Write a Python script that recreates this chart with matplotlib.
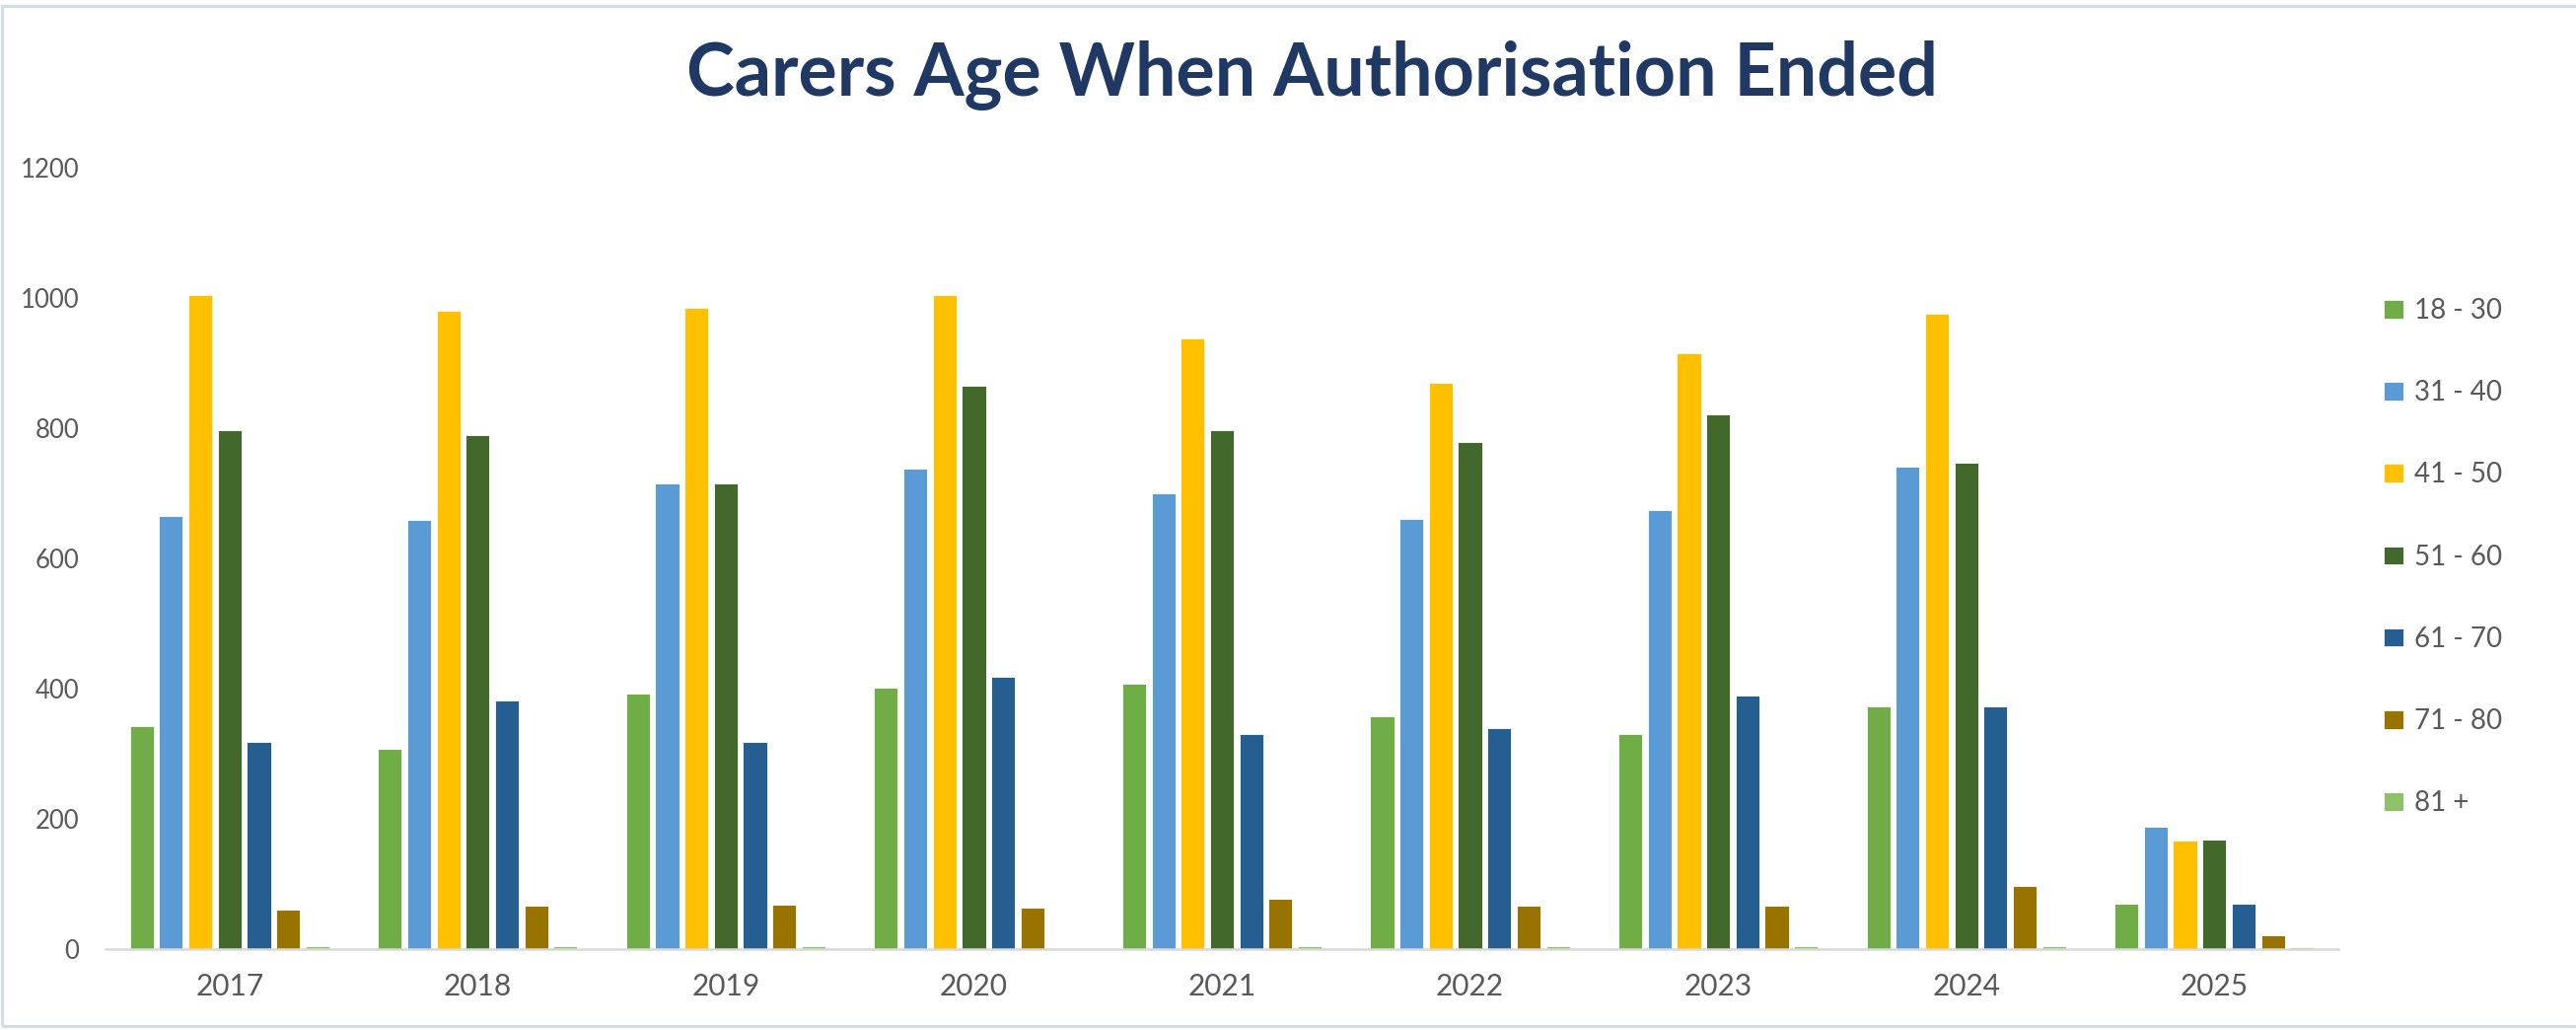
import matplotlib
matplotlib.use("Agg")
import matplotlib.pyplot as plt
from matplotlib.patches import Rectangle
import numpy as np

years = ["2017", "2018", "2019", "2020", "2021", "2022", "2023", "2024", "2025"]
age_groups = ["18 - 30", "31 - 40", "41 - 50", "51 - 60", "61 - 70", "71 - 80", "81 +"]

age_18_30 = [342, 308, 392, 402, 408, 358, 331, 373, 70]
age_31_40 = [665, 659, 716, 738, 701, 661, 674, 741, 188]
age_41_50 = [1005, 981, 986, 1005, 938, 870, 916, 977, 166]
age_51_60 = [798, 790, 716, 866, 798, 779, 821, 748, 168]
age_61_70 = [319, 382, 319, 418, 331, 340, 390, 373, 70]
age_71_80 = [61, 66, 68, 64, 77, 66, 66, 97, 21]
age_81_plus = [4, 4, 4, 0, 4, 4, 5, 4, 3]

series = [age_18_30, age_31_40, age_41_50, age_51_60, age_61_70, age_71_80, age_81_plus]
colors = ["#70AD47", "#5B9BD5", "#FFC000", "#43682B", "#255E91", "#997300", "#8FC16B"]

W, H = 2612, 1044
fig = plt.figure(figsize=(W / 100, H / 100), dpi=100)
fig.patch.set_facecolor("white")

ax = fig.add_axes([107 / W, 1 - 962 / H, (2371 - 107) / W, (962 - 170.4) / H])

x = np.arange(len(years))
step = 0.118
width = 0.096
for i, (vals, c, lab) in enumerate(zip(series, colors, age_groups)):
    ax.bar(x + (i - 3) * step, vals, width=width, color=c, label=lab,
           edgecolor="white", linewidth=0.6, zorder=2)

ax.set_xlim(-0.5, len(years) - 0.5)
ax.set_ylim(0, 1200)
ax.set_yticks([0, 200, 400, 600, 800, 1000, 1200])
ax.set_xticks(x)
ax.set_xticklabels(years)
for s in ["top", "right", "left"]:
    ax.spines[s].set_visible(False)
ax.spines["bottom"].set_color("#D9D9D9")
ax.spines["bottom"].set_linewidth(1.8)
ax.tick_params(axis="both", length=0, colors="#595959")
ax.tick_params(axis="y", labelsize=18.5, pad=19)
ax.tick_params(axis="x", labelsize=21.5, pad=17)
for lab in ax.get_xticklabels() + ax.get_yticklabels():
    lab.set_fontfamily("Lato")

fig.text(1330 / W, 1 - 77 / H, "Carers Age When Authorisation Ended",
         ha="center", va="center", fontsize=53, fontweight="bold",
         color="#1F3864", family="Lato")

leg = fig.legend(loc="upper left", bbox_to_anchor=(2417 / W, 1 - 302 / H),
                 frameon=False, prop={"family": "Lato", "size": 20},
                 handlelength=0.72, handleheight=0.65, handletextpad=0.4,
                 labelspacing=2.06, borderaxespad=0, borderpad=0)
for t in leg.get_texts():
    t.set_color("#595959")

fig.patches.append(Rectangle((2 / W, 1 - 1040 / H), (W + 10) / W, (1040 - 6) / H,
                             transform=fig.transFigure, facecolor="none",
                             edgecolor="#D6DCE5", linewidth=2.2, zorder=0))

fig.savefig("out.png", dpi=100, facecolor="white")
